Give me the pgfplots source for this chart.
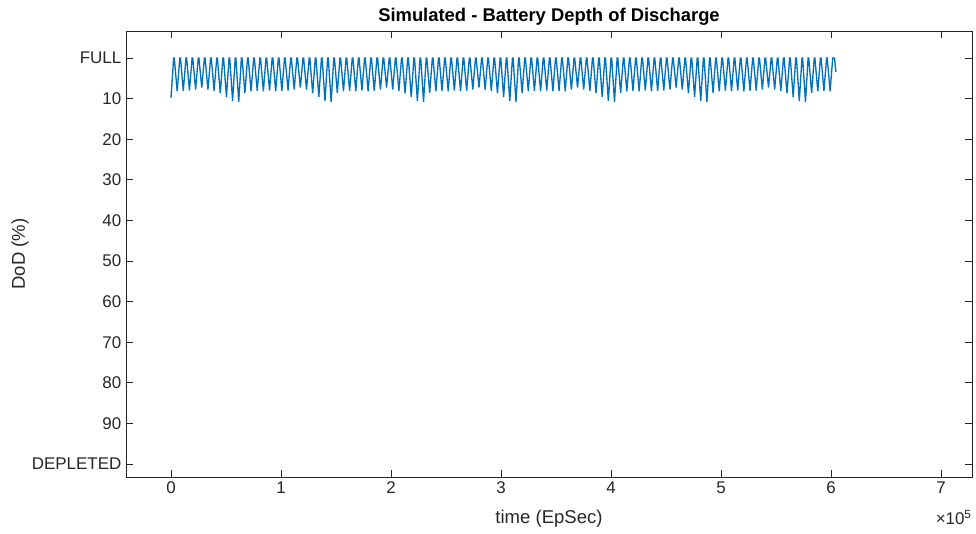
\documentclass[border=0pt]{standalone}
\usepackage{fontspec}
\setmainfont{Liberation Sans}
\usepackage{pgfplots}
\pgfplotsset{compat=1.18}

\definecolor{mlblue}{rgb}{0,0.447,0.741}
\definecolor{mlaxis}{rgb}{0.15,0.15,0.15}

\begin{document}
\begin{tikzpicture}
\begin{axis}[
    scale only axis,
    width=634.5pt, height=334.5pt,
    xmin=-40900, xmax=728200,
    ymin=-6.65, ymax=103.2,
    y dir=reverse,
    scaled x ticks=false,
    axis line style={mlaxis, line width=0.5pt},
    tick style={mlaxis, line width=0.5pt},
    tick align=inside, tick pos=both,
    major tick length=5pt,
    xtick={0,100000,200000,300000,400000,500000,600000,700000},
    xticklabels={0,1,2,3,4,5,6,7},
    ytick={0,10,20,30,40,50,60,70,80,90,100},
    yticklabels={FULL,10,20,30,40,50,60,70,80,90,DEPLETED},
    ticklabel style={font=\fontsize{12.7}{14}\selectfont, text=mlaxis},
    /pgf/number format/assume math mode=true,
    every axis title shift=0pt,
    title={\bfseries Simulated - Battery Depth of Discharge},
    title style={at={(axis description cs:0.5,1.0314)}, anchor=center,
        font=\fontsize{13.8}{15}\selectfont},
    xlabel={time (EpSec)},
    ylabel={DoD (\%)},
    xlabel style={at={(axis description cs:0.5,-0.094)}, anchor=center,
        font=\fontsize{13.9}{15}\selectfont, text=mlaxis},
    ylabel style={at={(axis description cs:-0.1253,0.5)}, anchor=center,
        font=\fontsize{13.9}{15}\selectfont, text=mlaxis},
]
\addplot[mlblue, line width=1pt] coordinates {
(0,9.8) (2400,0) (3000,0)
(5600,8.2) (8000,0) (8600,0)
(11200,8.1) (13600,0) (14200,0)
(16800,8.0) (19200,0) (19800,0)
(22400,7.8) (24800,0) (25400,0)
(28000,7.3) (30400,0) (31000,0)
(33600,7.8) (36000,0) (36600,0)
(39200,8.1) (41600,0) (42200,0)
(44800,8.7) (47200,0) (47800,0)
(50400,9.6) (52800,0) (53400,0)
(56000,10.6) (58400,0) (59000,0)
(61600,10.8) (64000,0) (64600,0)
(67200,8.6) (69600,0) (70200,0)
(72800,8.2) (75200,0) (75800,0)
(78400,8.1) (80800,0) (81400,0)
(84000,8.2) (86400,0) (87000,0)
(89600,8.0) (92000,0) (92600,0)
(95200,8.2) (97600,0) (98200,0)
(100800,8.1) (103200,0) (103800,0)
(106400,8.0) (108800,0) (109400,0)
(112000,7.8) (114400,0) (115000,0)
(117600,7.3) (120000,0) (120600,0)
(123200,7.8) (125600,0) (126200,0)
(128800,8.7) (131200,0) (131800,0)
(134400,9.6) (136800,0) (137400,0)
(140000,10.6) (142400,0) (143000,0)
(145600,10.8) (148000,0) (148600,0)
(151200,8.6) (153600,0) (154200,0)
(156800,8.2) (159200,0) (159800,0)
(162400,8.1) (164800,0) (165400,0)
(168000,8.2) (170400,0) (171000,0)
(173600,8.0) (176000,0) (176600,0)
(179200,8.2) (181600,0) (182200,0)
(184800,8.1) (187200,0) (187800,0)
(190400,7.8) (192800,0) (193400,0)
(196000,7.3) (198400,0) (199000,0)
(201600,7.8) (204000,0) (204600,0)
(207200,8.1) (209600,0) (210200,0)
(212800,8.7) (215200,0) (215800,0)
(218400,9.6) (220800,0) (221400,0)
(224000,10.6) (226400,0) (227000,0)
(229600,10.8) (232000,0) (232600,0)
(235200,8.6) (237600,0) (238200,0)
(240800,8.2) (243200,0) (243800,0)
(246400,8.1) (248800,0) (249400,0)
(252000,8.2) (254400,0) (255000,0)
(257600,8.0) (260000,0) (260600,0)
(263200,8.2) (265600,0) (266200,0)
(268800,8.1) (271200,0) (271800,0)
(274400,7.8) (276800,0) (277400,0)
(280000,7.3) (282400,0) (283000,0)
(285600,7.8) (288000,0) (288600,0)
(291200,8.1) (293600,0) (294200,0)
(296800,8.7) (299200,0) (299800,0)
(302400,9.6) (304800,0) (305400,0)
(308000,10.6) (310400,0) (311000,0)
(313600,10.8) (316000,0) (316600,0)
(319200,8.6) (321600,0) (322200,0)
(324800,8.2) (327200,0) (327800,0)
(330400,8.1) (332800,0) (333400,0)
(336000,8.2) (338400,0) (339000,0)
(341600,8.0) (344000,0) (344600,0)
(347200,8.2) (349600,0) (350200,0)
(352800,8.1) (355200,0) (355800,0)
(358400,8.2) (360800,0) (361400,0)
(364000,7.8) (366400,0) (367000,0)
(369600,7.3) (372000,0) (372600,0)
(375200,7.8) (377600,0) (378200,0)
(380800,8.1) (383200,0) (383800,0)
(386400,8.7) (388800,0) (389400,0)
(392000,9.6) (394400,0) (395000,0)
(397600,10.6) (400000,0) (400600,0)
(403200,10.8) (405600,0) (406200,0)
(408800,8.6) (411200,0) (411800,0)
(414400,8.2) (416800,0) (417400,0)
(420000,8.1) (422400,0) (423000,0)
(425600,8.2) (428000,0) (428600,0)
(431200,8.0) (433600,0) (434200,0)
(436800,8.2) (439200,0) (439800,0)
(442400,8.1) (444800,0) (445400,0)
(448000,8.0) (450400,0) (451000,0)
(453600,7.8) (456000,0) (456600,0)
(459200,7.3) (461600,0) (462200,0)
(464800,7.8) (467200,0) (467800,0)
(470400,8.7) (472800,0) (473400,0)
(476000,9.6) (478400,0) (479000,0)
(481600,10.6) (484000,0) (484600,0)
(487200,10.8) (489600,0) (490200,0)
(492800,8.6) (495200,0) (495800,0)
(498400,8.2) (500800,0) (501400,0)
(504000,8.1) (506400,0) (507000,0)
(509600,8.2) (512000,0) (512600,0)
(515200,8.0) (517600,0) (518200,0)
(520800,8.2) (523200,0) (523800,0)
(526400,8.1) (528800,0) (529400,0)
(532000,8.0) (534400,0) (535000,0)
(537600,7.8) (540000,0) (540600,0)
(543200,7.3) (545600,0) (546200,0)
(548800,7.8) (551200,0) (551800,0)
(554400,8.1) (556800,0) (557400,0)
(560000,8.7) (562400,0) (563000,0)
(565600,9.6) (568000,0) (568600,0)
(571200,10.6) (573600,0) (574200,0)
(576800,10.8) (579200,0) (579800,0)
(582400,8.6) (584800,0) (585400,0)
(588000,8.2) (590400,0) (591000,0)
(593600,8.1) (596000,0) (596600,0)
(599200,8.2) (601600,0) (603200,0) (604500,3.4)
};
\end{axis}
\node[anchor=north east, text=mlaxis, font=\fontsize{12.7}{14}\selectfont,
      inner sep=0pt] at ([yshift=-25pt]current axis.south east)
      {×10\textsuperscript{5}};
\path (current axis.south west) ++(-94.5pt,-42pt) coordinate (bbsw);
\path (current axis.north east) ++(3pt,23.25pt) coordinate (bbne);
\useasboundingbox (bbsw) rectangle (bbne);
\end{tikzpicture}
\end{document}
